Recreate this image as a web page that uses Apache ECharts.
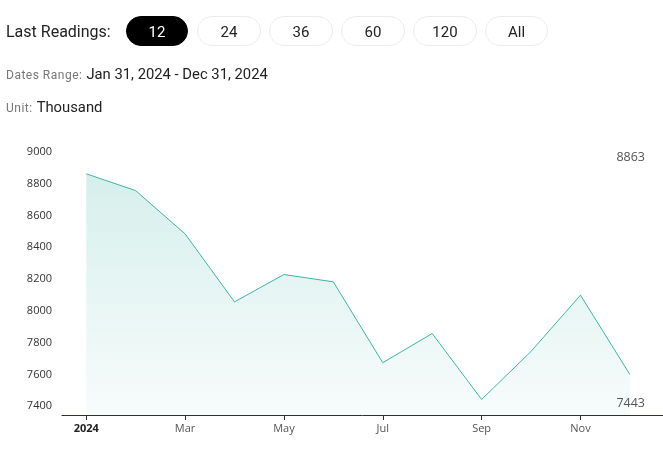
<!DOCTYPE html>
<html>
<head>
<meta charset="utf-8">
<script src="https://cdn.jsdelivr.net/npm/echarts@6/dist/echarts.min.js"></script>
<style>
  html,body{margin:0;padding:0;background:#fff;}
  #wrap{position:relative;width:663px;height:458px;overflow:hidden;font-family:Roboto,"Noto Sans",sans-serif;}
  #chart{position:absolute;left:0;top:0;width:663px;height:458px;}
  .lbl{position:absolute;white-space:nowrap;}
  .small{font-size:12px;color:#777;letter-spacing:0.5px;}
  .big{font-size:14.8px;color:#222;}
  .pill{position:absolute;top:16px;height:30px;line-height:30px;border-radius:15px;text-align:center;font-size:15px;color:#222;background:#fff;box-sizing:border-box;border:1px solid #ececec;}
  .pill.on{background:#000;color:#fff;border-color:#000;}
</style>
</head>
<body>
<div id="wrap">
  <div id="chart"></div>
  <div class="lbl" style="left:6px;top:22px;font-size:16px;color:#222;">Last Readings:</div>
  <div id="pills"></div>
  <div class="lbl" style="left:6px;top:64px;"><span class="small">Dates Range:</span> <span class="big">Jan 31, 2024 - Dec 31, 2024</span></div>
  <div class="lbl" style="left:6px;top:97px;"><span class="small">Unit:</span> <span class="big">Thousand</span></div>
</div>
<script>
const rangeButtons = ['12','24','36','60','120','All'];
const months = ['2024-01','2024-02','2024-03','2024-04','2024-05','2024-06','2024-07','2024-08','2024-09','2024-10','2024-11','2024-12'];
const values = [8863, 8757, 8485, 8057, 8229, 8183, 7674, 7858, 7443, 7745, 8099, 7600];
const xTickIndex = [0, 2, 4, 6, 8, 10];
const xTickLabels = ['2024', 'Mar', 'May', 'Jul', 'Sep', 'Nov'];
const yTicks = [7400, 7600, 7800, 8000, 8200, 8400, 8600, 8800, 9000];

// pills
const pillPos = [[126,62],[197,64],[269,64],[341,64],[413,64],[485,63]];
const pills = document.getElementById('pills');
rangeButtons.forEach((t,i)=>{
  const d = document.createElement('div');
  d.className = 'pill' + (i===0 ? ' on' : '');
  d.style.left = pillPos[i][0] + 'px';
  d.style.width = pillPos[i][1] + 'px';
  d.textContent = t;
  pills.appendChild(d);
});

const chart = echarts.init(document.getElementById('chart'), null, {renderer:'canvas'});
const data = values.map((v,i)=>[i, v]);
const vMax = Math.max(...values), vMin = Math.min(...values);
chart.setOption({
  animation:false,
  grid:{left:62, right:0, top:152, bottom:43, containLabel:false},
  xAxis:{
    type:'value', min:-0.49, max:11.67,
    splitLine:{show:false},
    axisLine:{show:true, lineStyle:{color:'#2a2d43', width:1}},
    axisTick:{show:true, length:5, lineStyle:{color:'#2a2d43'}, customValues:xTickIndex},
    axisLabel:{
      customValues:xTickIndex, margin:8, fontSize:11, color:'#555',
      fontFamily:'"Open Sans", sans-serif',
      formatter:function(v){
        const k = xTickIndex.indexOf(Math.round(v));
        if(k<0) return '';
        return k===0 ? '{y|' + xTickLabels[k] + '}' : xTickLabels[k];
      },
      rich:{y:{fontWeight:'bold', color:'#222', fontSize:11, fontFamily:'"Open Sans", sans-serif'}}
    }
  },
  yAxis:{
    type:'value', min:7345, max:9000,
    splitLine:{show:false},
    axisLine:{show:false}, axisTick:{show:false},
    axisLabel:{customValues:yTicks, margin:10, fontSize:11, color:'#333', fontFamily:'"Open Sans", sans-serif',
      formatter:function(v){ return String(v); }}
  },
  series:[{
    type:'line', data:data, showSymbol:false, symbol:'none',
    lineStyle:{color:'#3db4a4', width:1},
    areaStyle:{color:new echarts.graphic.LinearGradient(0,0,0,1,[
      {offset:0, color:'rgba(61,180,164,0.3)'},
      {offset:1, color:'rgba(61,180,164,0.06)'}
    ])}
  }],
  graphic:[
    {type:'text', right:18, top:151, style:{text:String(vMax), fontSize:12.5, fill:'#555', fontFamily:'"Open Sans", sans-serif'}},
    {type:'text', right:18, top:397, style:{text:String(vMin), fontSize:12.5, fill:'#555', fontFamily:'"Open Sans", sans-serif'}}
  ]
});
</script>
</body>
</html>
